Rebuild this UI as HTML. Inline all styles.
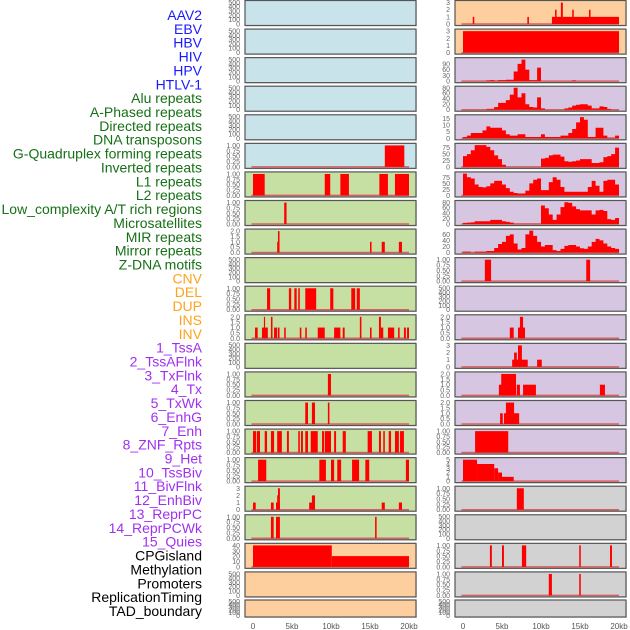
<!DOCTYPE html>
<html><head><meta charset="utf-8">
<style>
html,body{margin:0;padding:0;background:#fff;}
svg{display:block;font-family:"Liberation Sans",sans-serif;}
</style></head>
<body>
<svg id="chart" width="630" height="630" viewBox="0 0 630 630"></svg>
<script>
// ---- labels ----
const labelNames = ["AAV2","EBV","HBV","HIV","HPV","HTLV-1","Alu repeats","A-Phased repeats","Directed repeats","DNA transposons","G-Quadruplex forming repeats","Inverted repeats","L1 repeats","L2 repeats","Low_complexity A/T rich regions","Microsatellites","MIR repeats","Mirror repeats","Z-DNA motifs","CNV","DEL","DUP","INS","INV","1_TssA","2_TssAFlnk","3_TxFlnk","4_Tx","5_TxWk","6_EnhG","7_Enh","8_ZNF_Rpts","9_Het","10_TssBiv","11_BivFlnk","12_EnhBiv","13_ReprPC","14_ReprPCWk","15_Quies","CPGisland","Methylation","Promoters","ReplicationTiming","TAD_boundary"];
const labelGroups = [0,0,0,0,0,0,1,1,1,1,1,1,1,1,1,1,1,1,1,2,2,2,2,2,3,3,3,3,3,3,3,3,3,3,3,3,3,3,3,4,4,4,4,4];
const groupColors = ["#1a1aff","#167016","#ffa31a","#a030f0","#000000"];
const xTickLabels = ["0","5kb","10kb","15kb","20kb"];
const xTickValues = [0,5,10,15,20];

// ---- tick label sets ----
const T500 = ["0","100","200","300","400","500"];
const T1 = ["0.00","0.25","0.50","0.75","1.00"];
const T2 = ["0.0","0.5","1.0","1.5","2.0"];
const T3 = ["0","1","2","3"];
const T5 = ["0","1","2","3","4","5"];

// ---- segment data [startKb, endKb, value] ----
const L_gquad = [[16.9,19.4,1]];
const L_l1 = [[0,1.5,1],[9.2,9.9,1],[11.2,12.3,1],[16.2,17.3,1],[18.2,20,1]];
const L_lowc = [[4.0,4.3,1]];
const L_mir = [[3.1,3.4,1],[3.2,3.4,2],[15.0,15.2,1],[16.5,16.9,1],[18.7,19.1,1]];
const L_zdna = [[1.8,2.2,1],[4.6,4.9,1],[5.3,5.6,1],[5.8,6.0,1],[6.7,8.1,1],[9.9,10.3,1],[12.6,13.1,1],[13.3,13.7,1]];
const L_ins = [[0.26,0.6,1],[1.15,1.9,1],[1.4,1.55,2],[2.3,2.5,2],[2.7,3.1,1],[3.2,3.4,1],[4.0,4.2,1],[6.0,6.2,1],[6.7,6.9,1],[8.3,9.2,1],[10.4,11.2,1],[11.5,11.75,1],[13.7,13.9,2],[15.0,15.2,1],[16.15,16.4,2],[16.4,16.7,1],[17.3,18.1,1],[18.6,18.8,1],[19.35,19.6,1],[19.75,20,1]];
const L_r13 = [[9.6,10.0,1]];
const L_r14 = [[6.7,7.05,1],[7.55,7.95,1],[9.6,9.8,1]];
const L_r15 = [[0,0.4,1],[0.5,0.9,1],[1.5,1.8,1],[2.3,2.7,1],[3.1,3.7,1],[4.35,4.6,1],[5.8,6.0,1],[6.15,6.4,1],[6.7,7.05,1],[7.4,8.3,1],[8.85,9.1,1],[9.2,10.0,1],[10.4,10.65,1],[11.5,11.9,1],[14.7,15.25,1],[16.15,16.4,1],[16.7,16.9,1],[17.4,17.7,1],[18.2,18.7,1],[18.85,19.35,1]];
const L_r16 = [[0.65,1.7,1],[8.5,9.35,1],[10.0,10.4,1],[10.8,11.3,1],[12.7,13.6,1],[14.4,14.9,1],[19.6,20,1]];
const L_r17 = [[0,0.35,1],[2.3,2.65,1],[2.95,3.45,1],[3.1,3.2,2],[3.2,3.45,3],[7.2,7.95,1],[7.55,7.95,2],[16.5,16.9,1],[18.7,19.1,1]];
const L_r18 = [[2.3,2.65,1],[2.95,3.45,1],[15.65,15.85,1]];
const L_cpg = [[0,10.1,40],[10.1,20,20]];

const R_r0 = [[1.25,1.45,1],[8.25,8.45,1],[11.4,20,1],[11.8,12.0,2],[12.55,12.8,3],[14.0,14.2,2],[16.15,16.35,2]];
const R_r1 = [[0,20,3]];
const R_r9 = [[2.8,3.6,1],[15.8,16.3,1]];
const R_r11 = [[6.0,6.5,1],[7.05,7.95,1],[7.3,7.7,2]];
const R_r12 = [[6.3,8.3,1],[6.55,6.9,2],[7.05,7.55,3],[9.5,10.1,1]];
const R_r13 = [[4.6,6.8,1],[4.9,6.8,2],[6.9,7.3,1],[7.7,9.35,1],[17.55,18.2,1]];
const R_r14 = [[4.75,5.1,1],[5.25,7.2,1],[5.5,6.55,2]];
const R_r15 = [[1.55,5.8,1]];
const R_r16 = [[0,1.8,5],[1.8,4.0,4],[4.0,4.5,3],[4.5,5.0,2],[5.0,6.5,1]];
const R_r17 = [[6.9,7.8,1]];
const R_r19 = [[3.45,3.7,1],[5.0,5.25,1],[7.55,8.1,1],[14.9,15.1,1],[18.85,19.1,1]];
const R_r20 = [[11.0,11.4,1],[14.9,15.1,1]];

// ---- binned profiles (0.5kb bins, 0..20kb) ----
const P_r2 = [0,0,0,0,0,0,4,5,3,5,5,7,7,50,90,112,60,5,5,70,0,0,0,0,0,0,0,0,4,0,0,0,0,0,0,0,0,0,0,0];
const P_r3 = [0,0,0,0,0,0,3,3,10,25,25,35,55,80,45,60,20,10,8,45,5,0,0,0,0,0,5,8,15,18,20,20,15,5,5,12,10,3,0,0];
const P_r4 = [1,2,4,4,4,6,9,8,8,8,6,3,2,2,3,3,1,1,1,1,3,1,1,1,1,2,2,4,7,12,16,14,1,1,8,8,2,0.5,0.5,2];
const P_r5 = [42,50,65,85,85,85,78,65,45,30,8,0,0,0,0,0,0,0,0,0,32,35,45,48,48,40,22,20,22,25,30,30,30,15,15,18,38,42,50,75];
const P_r6 = [90,75,70,45,35,33,38,50,60,60,45,30,15,10,8,8,20,50,65,70,22,22,55,75,65,35,15,15,15,15,15,15,35,60,40,15,60,65,65,45];
const P_r7 = [4,5,6,10,10,10,10,15,15,15,10,8,5,1,1,1,1,1,1,1,68,58,35,15,35,62,80,78,65,55,50,50,50,35,50,52,48,18,15,22];
const P_r8 = [3,3,0,3,3,3,5,5,15,28,35,55,60,30,10,15,60,72,55,35,20,25,25,8,5,12,22,25,25,20,14,12,20,35,45,40,30,20,15,12];

const BLUE="#c8e3ea", GREEN="#c6e0a3", PEACH="#fecf9e", PURP="#d6c6e1", GRAY="#d2d2d2";
const leftPanels = [
 {bg:BLUE,t:T500,top:520},{bg:BLUE,t:T500,top:520},{bg:BLUE,t:T500,top:520},{bg:BLUE,t:T500,top:520},{bg:BLUE,t:T500,top:520},
 {bg:BLUE,t:T1,top:1.05,s:L_gquad},{bg:GREEN,t:T1,top:1.05,s:L_l1},{bg:GREEN,t:T1,top:1.05,s:L_lowc},
 {bg:GREEN,t:T2,top:2.1,s:L_mir},{bg:GREEN,t:T500,top:520},{bg:GREEN,t:T1,top:1.05,s:L_zdna},
 {bg:GREEN,t:T2,top:2.1,s:L_ins},{bg:GREEN,t:T500,top:520},{bg:GREEN,t:T1,top:1.05,s:L_r13},
 {bg:GREEN,t:T1,top:1.05,s:L_r14},{bg:GREEN,t:T1,top:1.05,s:L_r15},{bg:GREEN,t:T1,top:1.05,s:L_r16},
 {bg:GREEN,t:T3,top:3.15,s:L_r17},{bg:GREEN,t:T1,top:1.05,s:L_r18},
 {bg:PEACH,t:["0","10","20","30","40"],top:42,s:L_cpg},{bg:PEACH,t:T500,top:520},{bg:PEACH,t:T500,top:520}
];
const rightPanels = [
 {bg:PEACH,t:T3,top:3.15,s:R_r0},{bg:PEACH,t:T3,top:3.15,s:R_r1},
 {bg:PURP,t:["0","30","60","90"],top:117,p:P_r2},{bg:PURP,t:["0","20","40","60","80"],top:82,p:P_r3},
 {bg:PURP,t:["0","5","10","15"],top:17,p:P_r4},{bg:PURP,t:["0","25","50","75"],top:88,p:P_r5},
 {bg:PURP,t:["0","25","50","75"],top:93,p:P_r6},{bg:PURP,t:["0","20","40","60","80"],top:83,p:P_r7},
 {bg:PURP,t:["0","20","40","60"],top:74,p:P_r8},{bg:PURP,t:T1,top:1.05,s:R_r9},{bg:PURP,t:T500,top:520},
 {bg:PURP,t:T2,top:2.1,s:R_r11},{bg:PURP,t:T3,top:3.15,s:R_r12},{bg:PURP,t:T2,top:2.1,s:R_r13},
 {bg:PURP,t:T2,top:2.1,s:R_r14},{bg:PURP,t:T1,top:1.05,s:R_r15},{bg:PURP,t:T5,top:5.25,s:R_r16},
 {bg:GRAY,t:T1,top:1.05,s:R_r17},{bg:GRAY,t:T500,top:520},{bg:GRAY,t:T1,top:1.05,s:R_r19},
 {bg:GRAY,t:T1,top:1.05,s:R_r20},{bg:GRAY,t:T500,top:520}
];

const NS="http://www.w3.org/2000/svg";
const svg=document.getElementById('chart');
function mk(tag,attrs,parent){const e=document.createElementNS(NS,tag);for(const k in attrs)e.setAttribute(k,attrs[k]);(parent||svg).appendChild(e);return e;}

// labels
labelNames.forEach((n,i)=>{
  const t=mk('text',{x:202,y:15+i*13.86+5,'text-anchor':'end','font-size':'14',fill:groupColors[labelGroups[i]]});
  
  
  t.textContent=n;
});

function rowTop(i){return i<21?0.5+i*28.57:600;}
function rowH(i){return i<21?25:17;}

function drawPanel(p,col,i){
  const px = col===0?245:455, pw=171;
  const x0 = px+8; // kb 0
  const xs = kb=>x0+kb*7.8;
  const top=rowTop(i), h=rowH(i), bottom=top+h;
  const yb=bottom-1.5, span=h-2.5;
  const ys=v=>yb-(v/p.top)*span;
  const g=mk('g',{});
  
  
  mk('rect',{x:px+1,y:top+1,width:pw,height:h,fill:'#e4e4e4'},g);
  mk('rect',{x:px,y:top,width:pw,height:h,fill:p.bg},g);
  if(p.s||p.p){
    mk('line',{x1:xs(-0.2),x2:xs(20),y1:yb,y2:yb,stroke:'#d86060','stroke-width':1.5},g);
  }
  if(p.s){
    p.s.forEach(s=>{
      const r=mk('rect',{x:xs(s[0]),y:ys(s[2]),width:Math.max(1,xs(s[1])-xs(s[0])),height:yb-ys(s[2]),fill:'#ff0000'},g);
      
      
    });
  }
  if(p.p){
    let d='M'+xs(0)+','+yb;
    p.p.forEach((v,k)=>{d+=' L'+xs(k*0.5)+','+ys(v)+' L'+xs(k*0.5+0.5)+','+ys(v);});
    d+=' L'+xs(20)+','+yb+' Z';
    const a=mk('path',{d:d,fill:'#ff0000'},g);
    
    
  }
  mk('rect',{x:px,y:top,width:pw,height:h,fill:'none',stroke:'#555','stroke-width':1.2},g);
  // y ticks
  p.t.forEach(lbl=>{
    const v=parseFloat(lbl);
    const t=mk('text',{x:px-5,y:ys(v)+2.5,'text-anchor':'end','font-size':'7',fill:'#666'},g);
    
    
    t.textContent=lbl;
  });
}
leftPanels.forEach((p,i)=>drawPanel(p,0,i));
rightPanels.forEach((p,i)=>drawPanel(p,1,i));

// x axes
[253,463].forEach(x0=>{
  xTickValues.forEach((v,k)=>{
    const t=mk('text',{x:x0+v*7.8,y:629,'text-anchor':'middle','font-size':'8',fill:'#555'});
    
    
    t.textContent=xTickLabels[k];
  });
});
</script>
</body></html>
